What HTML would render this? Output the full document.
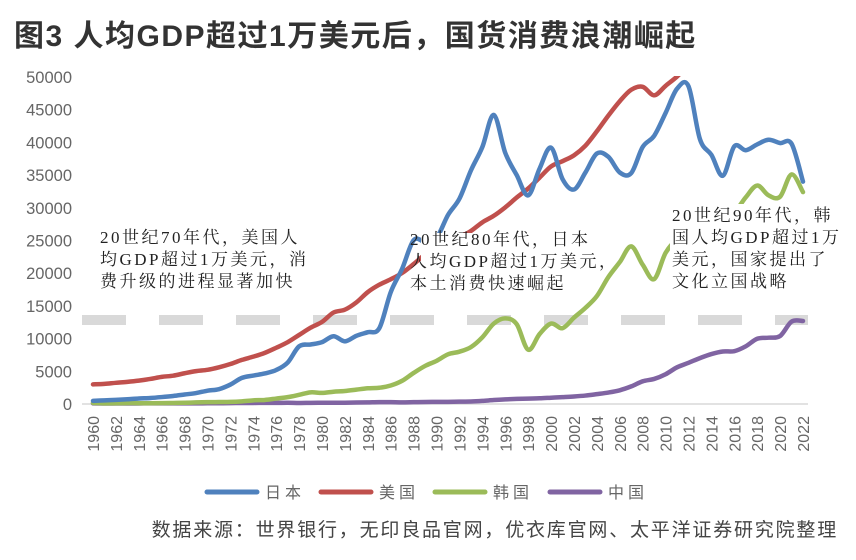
<!DOCTYPE html>
<html><head><meta charset="utf-8"><style>
body{margin:0;background:#fff;}
svg text{font-family:"Liberation Sans","Noto Sans CJK SC",sans-serif;}
.ann{font-family:"Liberation Serif","Noto Serif CJK SC",serif;font-size:17px;fill:#222;letter-spacing:2.5px;}
</style></head><body>
<svg id="c" width="856" height="555" xmlns="http://www.w3.org/2000/svg">
<text x="14" y="46" font-size="30" font-weight="bold" fill="#333" letter-spacing="1.5">图3  人均GDP超过1万美元后，国货消费浪潮崛起</text>
<defs><clipPath id="pc"><rect x="60" y="76" width="780" height="340"/></clipPath></defs>
<g id="yaxis"></g>
<g id="xaxis"></g>
<line x1="82" y1="320" x2="808" y2="320" stroke="#d9d9d9" stroke-width="10" stroke-dasharray="44,33"/>
<g id="series" clip-path="url(#pc)"></g>
<g>
<text class="ann" x="100" y="243">20世纪70年代，美国人</text>
<text class="ann" x="100" y="265">均GDP超过1万美元，消</text>
<text class="ann" x="100" y="287">费升级的进程显著加快</text></g>
<g>
<rect x="421" y="233" width="170" height="59" fill="#fff"/>
<text class="ann" x="410" y="245">20世纪80年代，日本</text>
<text class="ann" x="410" y="267">人均GDP超过1万美元，</text>
<text class="ann" x="410" y="289">本土消费快速崛起</text></g>
<g>
<rect x="670" y="204" width="162" height="88" fill="#fff"/>
<text class="ann" x="672" y="221">20世纪90年代，韩</text>
<text class="ann" x="672" y="243">国人均GDP超过1万</text>
<text class="ann" x="672" y="265">美元，国家提出了</text>
<text class="ann" x="672" y="287">文化立国战略</text></g>
<g id="legend"></g>
<text x="838" y="536" text-anchor="end" font-size="19" fill="#444" letter-spacing="1.8">数据来源：世界银行，无印良品官网，优衣库官网、太平洋证券研究院整理</text>
</svg>
<script>
const years=[];for(let y=1960;y<=2022;y++)years.push(y);
const yTicks=[0,5000,10000,15000,20000,25000,30000,35000,40000,45000,50000];
const japan=[0.48,0.56,0.63,0.72,0.84,0.92,1.06,1.23,1.45,1.67,2.04,2.27,2.97,3.99,4.35,4.67,5.2,6.34,8.82,9.1,9.46,10.36,9.58,10.43,10.98,11.58,17.1,20.7,25.05,24.8,25.4,28.9,31.4,35.7,39.3,44.2,38.4,35.0,31.9,36.0,39.2,34.4,32.8,35.4,38.3,37.8,35.4,35.3,39.3,41.0,44.5,48.2,48.6,40.5,38.1,34.9,39.4,38.8,39.7,40.4,39.9,39.8,34.0];
const usa=[3.0,3.07,3.24,3.38,3.57,3.83,4.15,4.33,4.7,5.03,5.23,5.61,6.11,6.74,7.24,7.82,8.6,9.45,10.56,11.67,12.55,13.98,14.43,15.54,17.12,18.24,19.07,20.04,21.4,22.86,23.89,24.34,25.47,26.46,27.78,28.78,30.07,31.57,32.95,34.62,36.33,37.13,38.02,39.5,41.7,44.1,46.3,48.05,48.5,47.2,48.65,50.07,51.8,53.1,55.0,56.8,57.9,60.3,63.1,65.1,63.5,70.2,76.3];
const korea=[0.16,0.09,0.11,0.14,0.12,0.11,0.13,0.16,0.19,0.24,0.28,0.3,0.32,0.41,0.56,0.62,0.83,1.05,1.4,1.78,1.7,1.88,1.99,2.2,2.4,2.48,2.83,3.55,4.75,5.82,6.6,7.6,8.0,8.7,10.2,12.3,13.1,12.2,8.3,10.7,12.3,11.6,13.2,14.7,16.5,19.4,21.7,24.1,21.3,19.1,23.1,25.1,25.5,27.2,29.2,28.7,29.3,31.6,33.4,31.9,31.7,35.1,32.4];
const china=[0.09,0.08,0.07,0.07,0.08,0.1,0.1,0.09,0.09,0.09,0.11,0.12,0.13,0.16,0.16,0.18,0.17,0.19,0.16,0.18,0.19,0.2,0.2,0.22,0.25,0.29,0.28,0.25,0.28,0.31,0.32,0.33,0.37,0.38,0.47,0.61,0.71,0.78,0.83,0.87,0.96,1.05,1.15,1.29,1.51,1.75,2.1,2.69,3.47,3.83,4.55,5.61,6.3,7.02,7.64,8.03,8.08,8.82,9.98,10.14,10.4,12.6,12.7];
const seriesNames=["日本","美国","韩国","中国"];
const seriesColors=["#4f81bd","#c0504d","#9bbb59","#8064a2"];
const seriesData=[japan,usa,korea,china];
const NS="http://www.w3.org/2000/svg";
const X=y=>93+(y-1960)*(803-93)/62;
const Y=v=>404-v*(404-77)/50000;
function mk(t,a,p){const e=document.createElementNS(NS,t);for(const k in a)e.setAttribute(k,a[k]);p.appendChild(e);return e;}
const ya=document.getElementById('yaxis');
yTicks.forEach(v=>{const t=mk('text',{x:72,y:Y(v)+6,'text-anchor':'end','font-size':16.5,fill:'#666'},ya);t.textContent=v;

});
const xa=document.getElementById('xaxis');
const al=mk('line',{x1:82,y1:404,x2:808,y2:404,stroke:'#d9d9d9','stroke-width':1.5},xa);


years.forEach(y=>{if((y-1960)%2)return;const t=mk('text',{x:0,y:0,'text-anchor':'end','font-size':16,fill:'#666',transform:`translate(${X(y)+6},416) rotate(-90)`},xa);t.textContent=y;

});
function path(pts){let d=`M${pts[0][0]},${pts[0][1]}`;for(let i=0;i<pts.length-1;i++){const p0=pts[Math.max(0,i-1)],p1=pts[i],p2=pts[i+1],p3=pts[Math.min(pts.length-1,i+2)];
const c1=[p1[0]+(p2[0]-p0[0])/6,p1[1]+(p2[1]-p0[1])/6],c2=[p2[0]-(p3[0]-p1[0])/6,p2[1]-(p3[1]-p1[1])/6];d+=`C${c1[0]},${c1[1]} ${c2[0]},${c2[1]} ${p2[0]},${p2[1]}`;}return d;}
const sg=document.getElementById('series');
[3,2,1,0].forEach(i=>{const pts=years.map((y,j)=>[X(y),Y(seriesData[i][j]*1000)]);
const p=mk('path',{d:path(pts),fill:'none',stroke:seriesColors[i],'stroke-width':4.5,'stroke-linejoin':'round','stroke-linecap':'round'},sg);

});
const lg=document.getElementById('legend');
const lx=[207,321,435,550];
seriesNames.forEach((n,i)=>{const l=mk('line',{x1:lx[i],y1:492,x2:lx[i]+50,y2:492,stroke:seriesColors[i],'stroke-width':5,'stroke-linecap':'round'},lg);


const t=mk('text',{x:lx[i]+58,y:498,'font-size':16,fill:'#666','letter-spacing':4},lg);t.textContent=n;

});
</script>
</body></html>
